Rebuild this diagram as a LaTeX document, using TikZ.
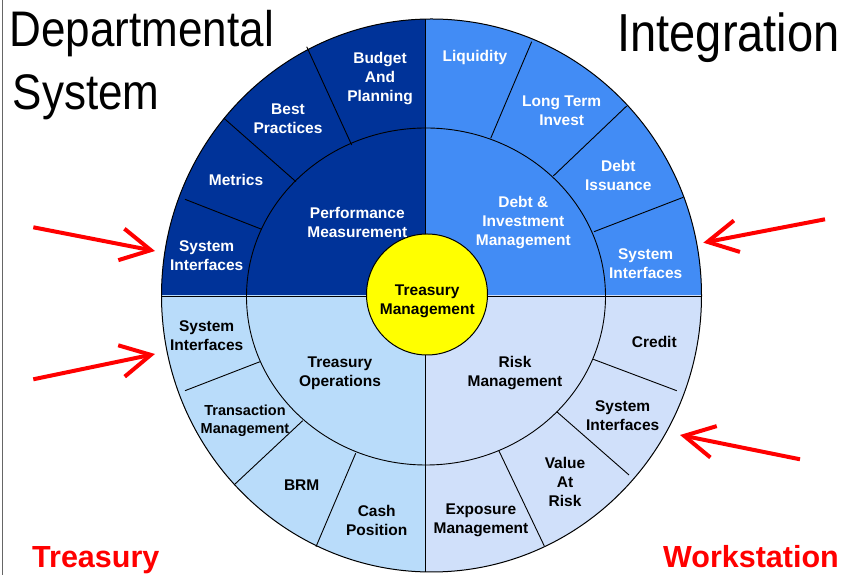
\documentclass[tikz,border=0pt]{standalone}
\usepackage{fontspec}
\setmainfont{Liberation Sans}
\newfontfamily\titlefont[FakeStretch=0.88]{Liberation Sans}
\usetikzlibrary{arrows.meta}
\definecolor{perfblue}{RGB}{0,51,153}
\definecolor{debtblue}{RGB}{66,140,245}
\definecolor{opsblue}{RGB}{185,220,250}
\definecolor{riskblue}{RGB}{208,224,250}
\definecolor{hubyellow}{RGB}{255,255,0}

\begin{document}
\begin{tikzpicture}[x=1pt, y=1pt,
  seg/.style={font=\fontsize{15.5}{19}\selectfont\bfseries, align=center, inner sep=0pt},
  segw/.style={seg, text=white},
  segk/.style={seg, text=black},
  title/.style={font=\titlefont\fontsize{50}{60}\selectfont, inner sep=0pt},
  tag/.style={font=\fontsize{30.5}{36}\selectfont\bfseries, text=red, inner sep=0pt},
  pointer/.style={red, line width=4pt, -{Straight Barb[length=30pt, width=32pt]}}]

\useasboundingbox (0,0) rectangle (841,575);

% Ring centres
\coordinate (outer) at (431.5,279.5);
\coordinate (inner) at (426,278.5);
\coordinate (hub) at (427,280.5);

% Quadrants
\foreach \col/\xa/\ya/\xb/\yb in {perfblue/0/279/425/575, debtblue/425/279/841/575,
                                  opsblue/0/0/425/279, riskblue/425/0/841/279} {
  \begin{scope}
    \clip (\xa,\ya) rectangle (\xb,\yb);
    \fill[\col] (outer) ellipse [x radius=270pt, y radius=276.5pt];
  \end{scope}
}

% Inner ring and spokes
\draw[line width=0.9pt] (inner) ellipse [x radius=179.5pt, y radius=168.5pt];
\foreach \xa/\ya/\xb/\yb in {351.7/430/306.7/528.3, 296/393.3/224/456.7, 261.7/345.7/185/375.7,
                             490.7/436.7/531.7/533.3, 553.3/399/626.7/469, 594/343.3/683.3/377.7,
                             260/213.3/185/184.3, 302.7/154.3/234/90, 355.7/121.7/316/28.3,
                             593.3/215.7/676.7/184.3, 556.7/163.3/629/100, 499/124/544.3/29}
  \draw[line width=0.9pt] (\xa,\ya) -- (\xb,\yb);

% Dividers and rim
\draw[line width=0.9pt] (425,3) -- (425,556);
\draw[line width=0.9pt] (161.5,279) -- (701.5,279);
\draw[line width=1pt] (outer) ellipse [x radius=270pt, y radius=276.5pt];

% Hub
\node[circle, draw, line width=1pt, fill=hubyellow, minimum size=121pt, inner sep=0pt] (hubc) at (hub) {};
\node[segk] (treasmgmt) at (427.3,274) {Treasury\\Management};

% Performance measurement
\node[segw] (perf) at (357.3,353) {Performance\\Measurement};
\node[segw] (budget) at (380,496) {Budget\\And\\Planning};
\node[segw] (best) at (288,456) {Best\\Practices};
\node[segw] (metrics) at (236,395) {Metrics};
\node[segw] (sysa) at (206.7,319) {System\\Interfaces};

% Debt and investment
\node[segw] (debtinv) at (523.3,352.5) {Debt \&\\Investment\\Management};
\node[segw] (liquid) at (475,517) {Liquidity};
\node[segw] (longterm) at (561.7,464) {Long Term\\Invest};
\node[segw] (issue) at (618.3,400) {Debt\\Issuance};
\node[segw] (sysb) at (645.7,311.5) {System\\Interfaces};

% Treasury operations
\node[segk] (ops) at (340,202) {Treasury\\Operations};
\node[segk] (sysc) at (206.7,239) {System\\Interfaces};
\node[segk, font=\fontsize{14.5}{17.5}\selectfont\bfseries] (trans) at (245,154) {Transaction\\Management};
\node[segk] (brm) at (301.7,90) {BRM};
\node[segk] (cash) at (376.7,55) {Cash\\Position};

% Risk management
\node[segk] (risk) at (515,202) {Risk\\Management};
\node[segk] (credit) at (654.3,233) {Credit};
\node[segk] (sysd) at (622.7,159) {System\\Interfaces};
\node[segk] (var) at (565,93.5) {Value\\At\\Risk};
\node[segk] (expo) at (481,55) {Exposure\\Management};

% Headings
\node[title, anchor=base west] (dept) at (9.5,528) {Departmental};
\node[title, anchor=base west] (sys) at (12.5,465) {System};
\node[title, font=\titlefont\fontsize{53.5}{60}\selectfont, anchor=base east] (integ) at (840,523) {Integration};
\node[tag, anchor=base west] (tws) at (32,7) {Treasury};
\node[tag, anchor=base east] (ws) at (839,7) {Workstation};
\draw[black!60, line width=1pt] (2,0) -- (2,575);

% Pointers to the interfaces
\coordinate (p1s) at (33.3,347.7);  \coordinate (p1e) at (155,324);
\coordinate (p2s) at (33.3,195.7);  \coordinate (p2e) at (155,221);
\coordinate (p3s) at (825,355.7);   \coordinate (p3e) at (703.3,332.3);
\coordinate (p4s) at (800,115.7);   \coordinate (p4e) at (680,140);
\foreach \i in {1,...,4}
  \draw[pointer] (p\i s) -- (p\i e);
\end{tikzpicture}
\end{document}
